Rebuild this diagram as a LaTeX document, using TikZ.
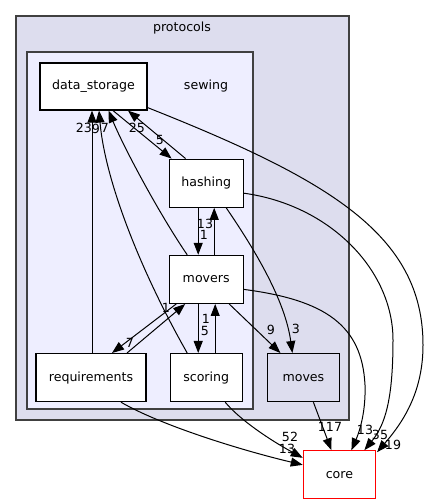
\documentclass[tikz,border=0pt]{standalone}
\usepackage{fontspec}
\setmainfont{DejaVu Sans}
\usepackage{xcolor}
\usetikzlibrary{arrows.meta,positioning}
\definecolor{outerfill}{HTML}{DDDDEE}
\definecolor{innerfill}{HTML}{EEEEFF}
\definecolor{clusterline}{HTML}{404040}
\definecolor{coreline}{HTML}{FF0000}

\begin{document}
\begin{tikzpicture}[x=1pt, y=1pt, node distance=0.8cm]
        \tikzstyle{folder}
	  =[draw=black, fill=white, rectangle, line width=1.2pt,
	  minimum width=72pt, minimum height=48pt, inner sep=0pt,
	  font=\fontsize{12.6}{15}\selectfont]
        \tikzstyle{edge}
	  =[-{Triangle[length=12pt,width=9pt]}, line width=1pt]
        \tikzstyle{num}
	  =[inner sep=0pt, font=\fontsize{12.6}{15}\selectfont]

	\useasboundingbox (0,0) rectangle (429,500);

	% clusters
	\draw[clusterline, fill=outerfill, line width=1.2pt]
	  (16,484) rectangle (349,80);
	\node[num] (protocols) at (182,472) {protocols};
	\draw[clusterline, fill=innerfill, line width=1.2pt]
	  (27,448) rectangle (253,91);
	\node[num] (sewing) at (206,414) {sewing};

	% directories
	\node[folder, minimum width=107pt, minimum height=47pt] (data_storage)
	  at (93.5,413.5) {data\_storage};
	\node[folder, minimum width=74pt] (hashing)
	  [below right=48pt and 21pt of data_storage] {hashing};
	\node[folder, minimum width=74pt] (movers)
	  [below=47pt of hashing] {movers};
	\node[folder] (scoring)
	  [below=49pt of movers] {scoring};
	\node[folder, minimum width=110pt] (requirements)
	  [left=23pt of scoring] {requirements};
	\node[folder, fill=outerfill] (moves)
	  [right=24pt of scoring] {moves};
	\node[folder, draw=coreline, line width=1.3pt] (core)
	  [below=48pt of moves, xshift=36pt] {core};

	% dependencies
	\draw[edge] ([xshift=19.5pt]data_storage.south) -- ([xshift=3pt]hashing.north west)
	  node[num] at (160,360) {5};
	\draw[edge] ([xshift=17pt]hashing.north west) -- ([xshift=34.5pt]data_storage.south)
	  node[num] at (137,372) {25};
	\draw[edge] ([yshift=3pt]data_storage.south east)
	  .. controls (330,320) and (423,265) .. (423,155)
	  .. controls (423,110) and (405,80) .. ([xshift=1pt,yshift=-2pt]core.north east)
	  node[num] at (393,55) {19};
	\draw[edge] ([xshift=1pt]requirements.north) -- ([xshift=-1.5pt]data_storage.south)
	  node[num] at (84,372) {23};
	\draw[edge] ([xshift=-19pt]scoring.north)
	  .. controls (140,230) and (105,320) .. ([xshift=5.5pt]data_storage.south)
	  node[num] at (96,371) {9};
	\draw[edge] ([xshift=-19pt]movers.north)
	  .. controls (160,285) and (125,350) .. ([xshift=15pt]data_storage.south)
	  node[num] at (105,372) {7};
	\draw[edge] ([xshift=-8pt]hashing.south) -- ([xshift=-8pt]movers.north)
	  node[num] at (204,265) {1};
	\draw[edge] ([xshift=8pt]movers.north) -- ([xshift=8pt]hashing.south)
	  node[num] at (205,276) {13};
	\draw[edge] ([xshift=20pt]hashing.south)
	  .. controls (255,250) and (285,200) .. ([xshift=-11pt]moves.north)
	  node[num] at (296,171) {3};
	\draw[edge] ([yshift=-10pt]hashing.east)
	  .. controls (330,295) and (393,230) .. (393,160)
	  .. controls (393,100) and (385,75) .. ([xshift=25pt]core.north)
	  node[num] at (380,65) {35};
	\draw[edge] ([xshift=-30pt]movers.south) -- ([xshift=21pt]requirements.north)
	  node[num] at (130,157) {7};
	\draw[edge] ([xshift=36pt]requirements.north) -- ([xshift=-21pt]movers.south)
	  node[num] at (166,192) {1};
	\draw[edge] ([xshift=-8pt]movers.south) -- ([xshift=-8pt]scoring.north)
	  node[num] at (205,169) {5};
	\draw[edge] ([xshift=9pt]scoring.north) -- ([xshift=9pt]movers.south)
	  node[num] at (206,181) {1};
	\draw[edge] ([xshift=23pt]movers.south) -- ([xshift=-23pt]moves.north)
	  node[num] at (271,170) {9};
	\draw[edge] ([yshift=-10pt]movers.east)
	  .. controls (325,200) and (362,175) .. (365,115)
	  .. controls (366,85) and (358,65) .. ([xshift=12pt]core.north)
	  node[num] at (365,70) {13};
	\draw[edge] ([xshift=10pt]moves.south) -- ([xshift=-8pt]core.north)
	  node[num] at (330,73) {117};
	\draw[edge] ([xshift=30pt]requirements.south)
	  .. controls (160,75) and (240,50) .. ([yshift=10pt]core.west)
	  node[num] at (287,51) {13};
	\draw[edge] ([xshift=19pt]scoring.south)
	  .. controls (240,80) and (270,60) .. ([yshift=17pt]core.west)
	  node[num] at (290,63) {52};
    \end{tikzpicture}
\end{document}
